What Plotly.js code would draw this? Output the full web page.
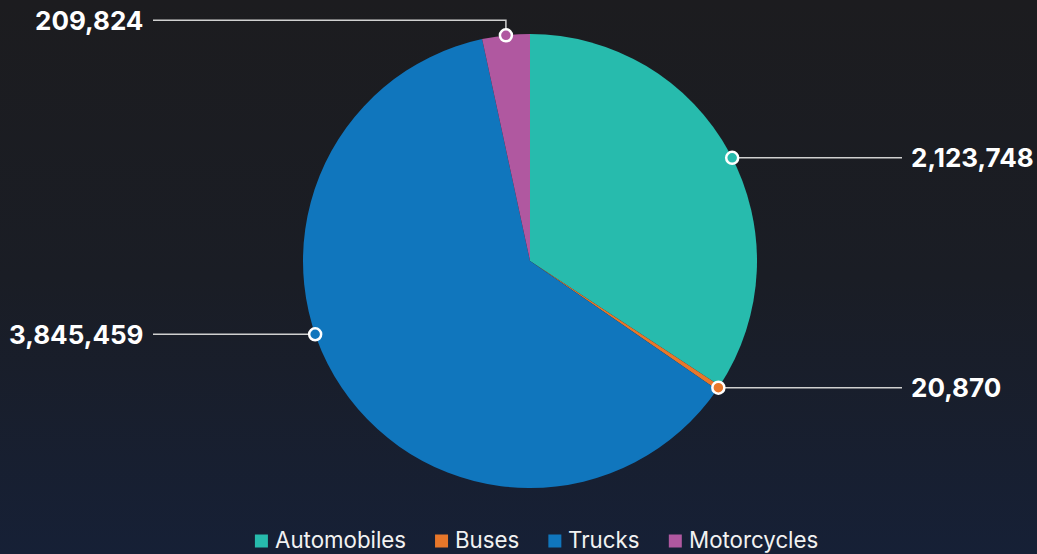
<!DOCTYPE html>
<html>
<head>
<meta charset="utf-8">
<script src="https://cdn.plot.ly/plotly-3.0.1.min.js"></script>
<style>
  html, body { margin: 0; padding: 0; }
  body { width: 1037px; height: 554px; background: linear-gradient(180deg, #1c1c1f 0%, #1a1d25 50%, #162036 100%); overflow: hidden; }
  #chart { width: 1037px; height: 554px; }
</style>
</head>
<body>
<div id="chart"></div>
<script>
// ---- data ----
const categories = ['Automobiles', 'Buses', 'Trucks', 'Motorcycles'];
const values = [2123748, 20870, 3845459, 209824];
const colors = ['#27bbad', '#e8772a', '#1076bd', '#b058a0'];

// ---- layout constants (pixels) ----
const W = 1037, H = 554;
const CX = 530, CY = 261, R = 227;
const RIGHT_LINE_END = 902, RIGHT_TEXT_X = 909;
const LEFT_LINE_END = 153, LEFT_TEXT_X = 145;
const LABEL_FONT = { family: 'Inter, sans-serif', size: 26, color: '#ffffff', weight: 'bold' };
const LEGEND_FONT = { family: 'Inter, sans-serif', size: 22.3, color: '#f2f2f2' };
const LEGEND_Y = 541, LEGEND_TEXT_Y = 539, LEGEND_CX = 536, SQ = 13, SQ_GAP = 6, ITEM_GAP = 30;
const DOT_R = 6;
// per-slice label tweaks (style): angle shift of the connector anchor, label vertical offset
const labelTweaks = [
  { angleShift: 1.3, dy: 0 },
  { angleShift: 0, dy: 0 },
  { angleShift: 15, dy: 0 },
  { angleShift: 0, dy: -15 }
];

const total = values.reduce((a, b) => a + b, 0);
let cum = 0;
const lineTraces = [];
const annotations = [];
const shapes = [];
values.forEach((v, i) => {
  const frac = v / total;
  const mid = (cum + frac / 2) * 360 + labelTweaks[i].angleShift;
  cum += frac;
  const rad = mid * Math.PI / 180;
  const px = CX + R * Math.sin(rad);
  const py = CY - R * Math.cos(rad);
  const right = Math.sin(rad) >= 0 && mid < 300;
  const ly = py + labelTweaks[i].dy;
  const xs = [px], ys = [py];
  if (ly !== py) { xs.push(px); ys.push(ly); }
  xs.push(right ? RIGHT_LINE_END : LEFT_LINE_END); ys.push(ly);
  lineTraces.push({
    type: 'scatter', mode: 'lines', x: xs, y: ys,
    line: { color: '#d0d0d0', width: 1.5 }, hoverinfo: 'skip', showlegend: false
  });
  shapes.push({
    type: 'circle', xref: 'x', yref: 'y', layer: 'above',
    x0: px - DOT_R, x1: px + DOT_R, y0: py - DOT_R, y1: py + DOT_R,
    fillcolor: colors[i], line: { color: '#ffffff', width: 2.5 }
  });
  annotations.push({
    xref: 'x', yref: 'y', x: right ? RIGHT_TEXT_X : LEFT_TEXT_X, y: ly,
    xanchor: right ? 'left' : 'right', yanchor: 'middle',
    text: v.toLocaleString('en-US'), showarrow: false, font: LABEL_FONT
  });
});

// ---- custom legend (measured text widths) ----
const ctx = document.createElement('canvas').getContext('2d');
ctx.font = LEGEND_FONT.size + 'px ' + LEGEND_FONT.family;
const widths = categories.map(c => ctx.measureText(c).width);
const totalW = widths.reduce((a, b) => a + b, 0) + categories.length * (SQ + SQ_GAP) + (categories.length - 1) * ITEM_GAP;
let lx = LEGEND_CX - totalW / 2;
categories.forEach((c, i) => {
  shapes.push({
    type: 'rect', xref: 'x', yref: 'y', x0: lx, x1: lx + SQ, y0: LEGEND_Y - SQ / 2, y1: LEGEND_Y + SQ / 2,
    fillcolor: colors[i], line: { width: 0 }
  });
  annotations.push({
    xref: 'x', yref: 'y', x: lx + SQ + SQ_GAP, y: LEGEND_TEXT_Y, xanchor: 'left', yanchor: 'middle',
    text: c, showarrow: false, font: LEGEND_FONT, borderpad: 0
  });
  lx += SQ + SQ_GAP + widths[i] + ITEM_GAP;
});

const pie = {
  type: 'pie', labels: categories, values: values, sort: false,
  direction: 'clockwise', rotation: 0,
  marker: { colors: colors, line: { width: 0 } },
  textinfo: 'none', hoverinfo: 'label+value', showlegend: false,
  domain: { x: [(CX - R) / W, (CX + R) / W], y: [1 - (CY + R) / H, 1 - (CY - R) / H] }
};

const layout = {
  width: W, height: H,
  margin: { l: 0, r: 0, t: 0, b: 0, pad: 0, autoexpand: false },
  paper_bgcolor: 'rgba(0,0,0,0)', plot_bgcolor: 'rgba(0,0,0,0)',
  xaxis: { range: [0, W], visible: false, fixedrange: true, domain: [0, 1] },
  yaxis: { range: [H, 0], visible: false, fixedrange: true, domain: [0, 1] },
  showlegend: false,
  annotations: annotations,
  shapes: shapes
};

Plotly.newPlot('chart', [pie].concat(lineTraces), layout, { displayModeBar: false, staticPlot: true });
</script>
</body>
</html>
